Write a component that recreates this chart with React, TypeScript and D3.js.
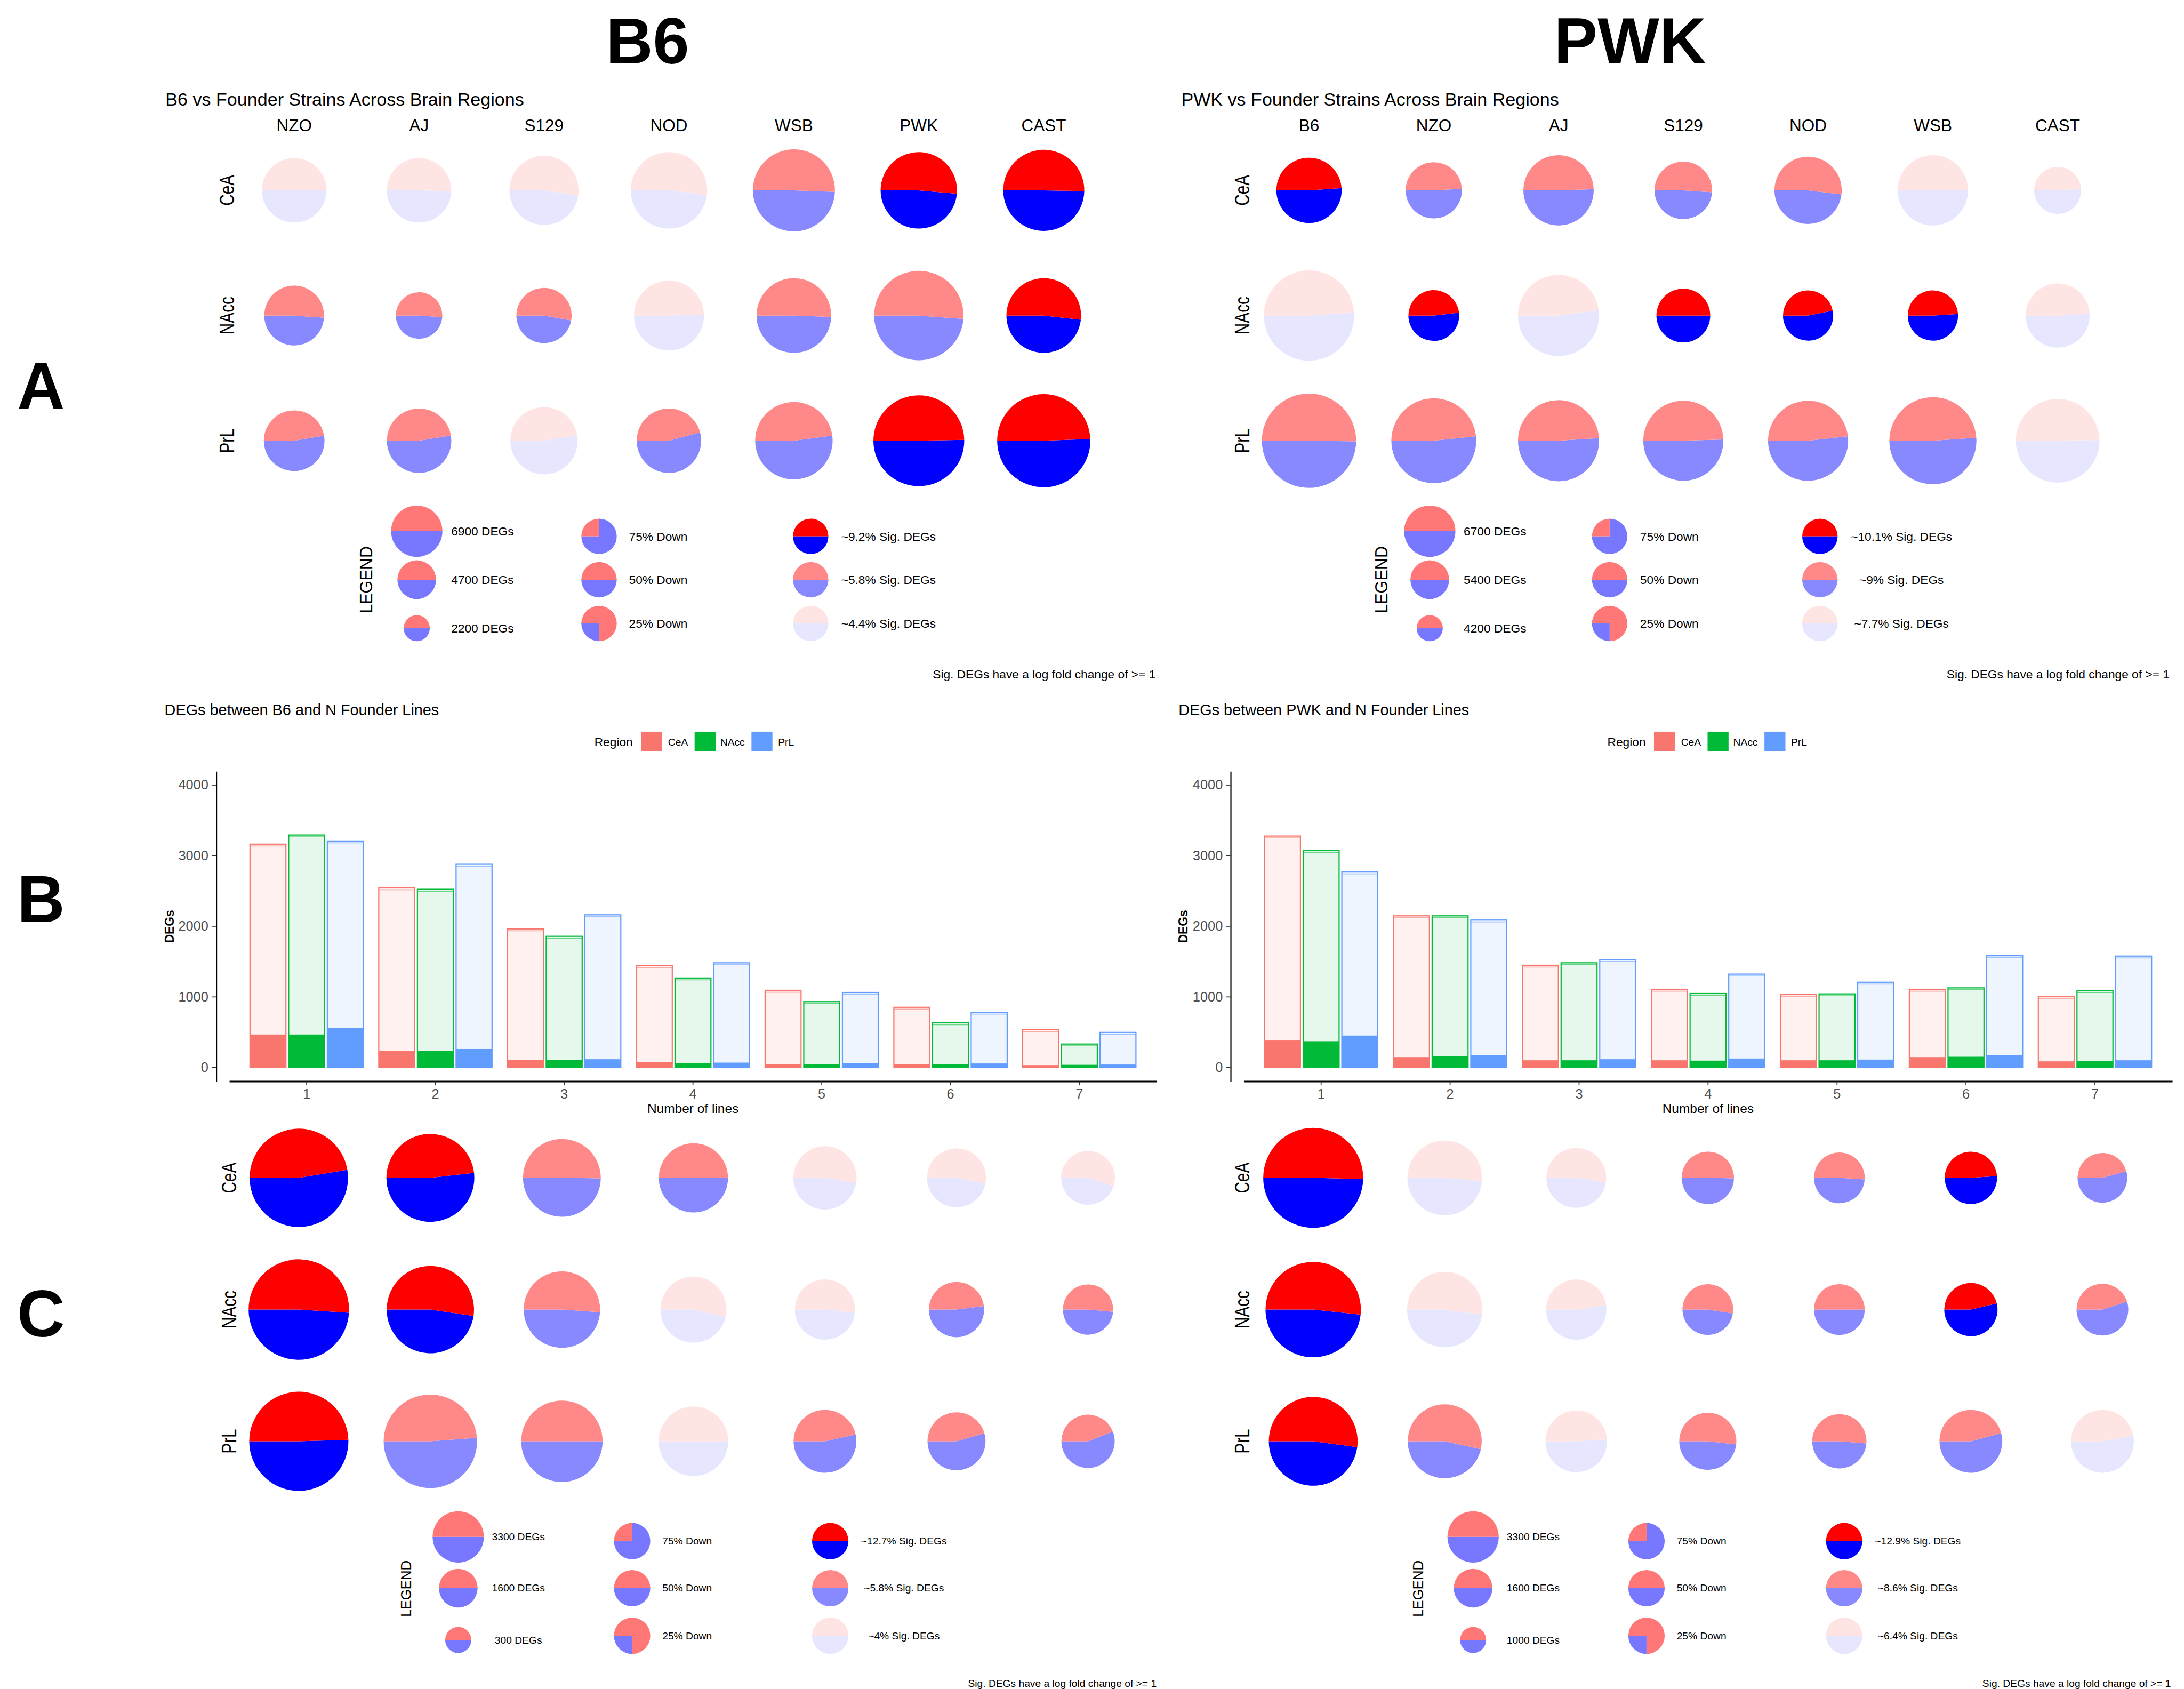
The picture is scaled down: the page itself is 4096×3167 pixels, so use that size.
import React, { useRef, useEffect } from "react";
import * as d3 from "d3";

const FONT = "'Liberation Sans', Arial, Helvetica, sans-serif";

const regions = ["CeA", "NAcc", "PrL"];
const b6Strains = ["NZO", "AJ", "S129", "NOD", "WSB", "PWK", "CAST"];
const pwkStrains = ["B6", "NZO", "AJ", "S129", "NOD", "WSB", "CAST"];
const lineCounts = ["1", "2", "3", "4", "5", "6", "7"];

// Panel A, B6 vs strains. rows: CeA, NAcc, PrL
const b6StrainDegs = [
  [3950, 3950, 4550, 5550, 6400, 5550, 6250],
  [3400, 2050, 2900, 4650, 5300, 7600, 5300],
  [3500, 3950, 4300, 3950, 5700, 7850, 8250],
];
const b6StrainDown = [
  [50, 49.5, 47.6, 48, 49.4, 48.6, 49.7],
  [48.8, 48.9, 47.2, 50.4, 49.4, 48.8, 48.2],
  [52.7, 52.6, 52.5, 54.2, 52.1, 50.3, 50.6],
];
// 0 = low, 1 = mid, 2 = high share of sig. DEGs
const b6StrainSig = [
  [0, 0, 0, 0, 1, 2, 2],
  [1, 1, 1, 0, 1, 1, 2],
  [1, 1, 0, 1, 1, 2, 2],
];

// Panel A, PWK vs strains
const pwkStrainDegs = [
  [4050, 3000, 4700, 3150, 4300, 4700, 2100],
  [7750, 2450, 6250, 2750, 2400, 2400, 3900],
  [8450, 6850, 6250, 6100, 6100, 7200, 6650],
];
const pwkStrainDown = [
  [51.1, 50.9, 50.5, 48.9, 48.1, 50, 50.9],
  [51.2, 51.8, 52.2, 50, 53.1, 51, 51.1],
  [49.8, 51.7, 51, 50.5, 51.8, 51.1, 50.3],
];
const pwkStrainSig = [
  [2, 1, 1, 1, 1, 0, 0],
  [0, 2, 0, 2, 2, 2, 0],
  [1, 1, 1, 1, 1, 1, 0],
];

// Panel B, DEGs vs number of founder lines
const b6LinesTotal = [
  [3160, 2540, 1960, 1440, 1090, 850, 535],
  [3290, 2520, 1855, 1265, 930, 630, 330],
  [3205, 2875, 2160, 1480, 1060, 780, 495],
];
const b6LinesSig = [
  [465, 235, 105, 75, 47, 47, 32],
  [465, 235, 103, 63, 43, 47, 36],
  [555, 260, 115, 67, 59, 55, 40],
];
const pwkLinesTotal = [
  [3275, 2145, 1445, 1105, 1030, 1105, 1000],
  [3070, 2145, 1480, 1045, 1040, 1125, 1085],
  [2765, 2085, 1525, 1320, 1205, 1580, 1575],
];
const pwkLinesSig = [
  [380, 145, 100, 100, 100, 145, 85],
  [370, 155, 100, 95, 100, 150, 88],
  [450, 170, 115, 125, 110, 175, 100],
];
const degTicks = [0, 1000, 2000, 3000, 4000];

// Panel C, pies per number of lines
const b6LinesDegs = [
  [9200, 7350, 5750, 4550, 3800, 3300, 2750],
  [9600, 7250, 5550, 4150, 3450, 2900, 2400],
  [9350, 8300, 6300, 4600, 3750, 3200, 2700],
];
const b6LinesDown = [
  [52.6, 51.8, 49.8, 49.9, 47.4, 46.9, 45],
  [49, 47.7, 48.9, 46.5, 48.3, 52, 48.6],
  [50.5, 51.2, 50, 50, 53.5, 54.5, 56],
];
const b6LinesSigLevel = [
  [2, 2, 1, 1, 0, 0, 0],
  [2, 2, 1, 0, 0, 1, 1],
  [2, 1, 1, 0, 1, 1, 1],
];
const pwkLinesDegs = [
  [9500, 5300, 3400, 2600, 2450, 2600, 2350],
  [8650, 5400, 3450, 2450, 2450, 2700, 2550],
  [7500, 5200, 3600, 3100, 2800, 3750, 3750],
];
const pwkLinesDown = [
  [49.6, 48.6, 47.6, 49.7, 49, 51.1, 54.4],
  [48.3, 47.9, 52.3, 47.6, 50, 53.7, 55],
  [47.9, 46.6, 51, 48.3, 48.8, 54.2, 52.8],
];
const pwkLinesSigLevel = [
  [2, 0, 0, 1, 1, 2, 1],
  [2, 0, 0, 1, 1, 2, 1],
  [2, 1, 0, 1, 1, 1, 0],
];

// legends
const downLegend = [75, 50, 25];
const sigLegendLevels = [2, 1, 0];
const b6StrainSizeLegend = [6900, 4700, 2200];
const pwkStrainSizeLegend = [6700, 5400, 4200];
const b6LinesSizeLegend = [3300, 1600, 300];
const pwkLinesSizeLegend = [3300, 1600, 1000];
const b6StrainSigLegend = ["~9.2%", "~5.8%", "~4.4%"];
const pwkStrainSigLegend = ["~10.1%", "~9%", "~7.7%"];
const b6LinesSigLegend = ["~12.7%", "~5.8%", "~4%"];
const pwkLinesSigLegend = ["~12.9%", "~8.6%", "~6.4%"];

const upColors = ["#FFE4E4", "#FF8888", "#FF0000"];
const downColors = ["#E6E6FF", "#8888FF", "#0000FF"];
const legendUp = "#FF7777";
const legendDown = "#7777FF";
const regionColors = ["#F8766D", "#00BA38", "#619CFF"];
const regionLight = ["#FEF1F0", "#E6F8EC", "#EFF5FF"];

const rScale = d3.scaleSqrt().domain([0, 10000]).range([0, 110]);

const pieGen = d3
  .pie<number>()
  .sort(null)
  .value((d) => d)
  .startAngle(1.5 * Math.PI)
  .endAngle(-0.5 * Math.PI);
const arcGen = d3.arc<d3.PieArcDatum<number>>().innerRadius(0);

const Pie = ({ x, y, r, down, upColor, downColor }: any) => {
  const slices = pieGen([down, 100 - down]);
  arcGen.outerRadius(r);
  return (
    <g transform={`translate(${x},${y})`}>
      {slices.map((s, i) => (
        <path key={i} d={arcGen(s) || ""} fill={i === 0 ? downColor : upColor} />
      ))}
    </g>
  );
};

const RotLabel = ({ x, y, size, stretch, text, bold }: any) => (
  <text
    transform={`translate(${x},${y}) rotate(-90) scale(1,${stretch})`}
    textAnchor="middle"
    dominantBaseline="central"
    fontSize={size}
    fontWeight={bold ? "bold" : "normal"}
  >
    {text}
  </text>
);

const PieGrid = ({ cols, xRange, yRange, degs, down, sig, rowLabelX, headerY, title, titleX, titleY }: any) => {
  const x = d3.scalePoint().domain(cols).range(xRange);
  const y = d3.scalePoint().domain(regions).range(yRange);
  return (
    <g>
      {title && (
        <text x={titleX} y={titleY} fontSize={39}>
          {title}
        </text>
      )}
      {headerY &&
        cols.map((c: string) => (
          <text key={c} x={x(c)} y={headerY} fontSize={36} textAnchor="middle">
            {c}
          </text>
        ))}
      {regions.map((reg, ri) => (
        <g key={reg}>
          <RotLabel x={rowLabelX} y={y(reg)} size={34} stretch={1.3} text={reg} />
          {cols.map((c: string, ci: number) => (
            <Pie
              key={c}
              x={x(c)}
              y={y(reg)}
              r={rScale(degs[ri][ci])}
              down={down[ri][ci]}
              upColor={upColors[sig[ri][ci]]}
              downColor={downColors[sig[ri][ci]]}
            />
          ))}
        </g>
      ))}
    </g>
  );
};

const PieLegend = ({ L, sizes, sigLabels }: any) => {
  const sizeR = d3.scalePoint().domain(sizes.map(String)).range([55, 28]);
  return (
    <g fontSize={L.font}>
      <RotLabel x={L.lx} y={L.ly} size={L.lFont} stretch={1.1} text="LEGEND" />
      {sizes.map((s: number, i: number) => (
        <g key={"s" + i}>
          <Pie x={L.sizeX} y={L.sizeYs[i]} r={sizeR(String(s))} down={50} upColor={legendUp} downColor={legendDown} />
          <text x={L.sizeLabelX} y={L.sizeYs[i]} textAnchor="middle" dominantBaseline="central">
            {s} DEGs
          </text>
        </g>
      ))}
      {downLegend.map((d, i) => (
        <g key={"d" + i}>
          <Pie x={L.downX} y={L.downYs[i]} r={L.smallR} down={d} upColor={legendUp} downColor={legendDown} />
          <text x={L.downLabelX} y={L.downYs[i]} textAnchor="middle" dominantBaseline="central">
            {d}% Down
          </text>
        </g>
      ))}
      {sigLabels.map((t: string, i: number) => (
        <g key={"g" + i}>
          <Pie
            x={L.sigX}
            y={L.downYs[i]}
            r={L.smallR}
            down={50}
            upColor={upColors[sigLegendLevels[i]]}
            downColor={downColors[sigLegendLevels[i]]}
          />
          <text x={L.sigLabelX} y={L.downYs[i]} textAnchor="middle" dominantBaseline="central">
            {t} Sig. DEGs
          </text>
        </g>
      ))}
      <text x={L.footX} y={L.footY} textAnchor="end" dominantBaseline="central">
        Sig. DEGs have a log fold change of {">="} 1
      </text>
    </g>
  );
};

const BarPanel = ({ title, titleX, totals, sigs, axisX, xRange, legendX, yTitleX }: any) => {
  const yRef = useRef<SVGGElement>(null);
  const xRef = useRef<SVGGElement>(null);
  const y = d3.scaleLinear().domain([-198, 4191]).range([2319, 1654]);
  const x = d3.scaleBand().domain(lineCounts).range(xRange).paddingInner(0).paddingOuter(0.1);
  const inner = d3.scaleBand().domain(regions).range([-121.5, 121.5]).paddingInner(0.07);

  useEffect(() => {
    const ya = d3.select(yRef.current!);
    ya.call(
      d3
        .axisLeft(y)
        .tickValues(degTicks)
        .tickFormat(d3.format("d"))
        .tickSize(10)
        .tickSizeOuter(0)
        .tickPadding(7)
    );
    ya.attr("font-family", FONT).attr("font-size", 29);
    ya.select(".domain").attr("stroke", "#000").attr("stroke-width", 2.5);
    ya.selectAll(".tick line").attr("stroke", "#333").attr("stroke-width", 2);
    ya.selectAll(".tick text").attr("fill", "#4D4D4D");

    const xa = d3.select(xRef.current!);
    xa.call(d3.axisBottom(x).tickSize(8).tickSizeOuter(0).tickPadding(8));
    xa.attr("font-family", FONT).attr("font-size", 29);
    xa.select(".domain").attr("stroke", "#000").attr("stroke-width", 3.5);
    xa.selectAll(".tick line").attr("stroke", "#333").attr("stroke-width", 2);
    xa.selectAll(".tick text").attr("fill", "#4D4D4D");
  });

  const keyOffsets = [100, 215, 337];
  const keyLabelOffsets = [158, 270, 394];
  const xMid = (xRange[0] + xRange[1]) / 2;

  return (
    <g>
      <text x={titleX} y={1534} fontSize={33}>
        {title}
      </text>
      <text x={legendX} y={1591} fontSize={26} dominantBaseline="central">
        Region
      </text>
      {regions.map((reg, i) => (
        <g key={reg}>
          <rect x={legendX + keyOffsets[i]} y={1569} width={45} height={42} fill={regionColors[i]} />
          <text x={legendX + keyLabelOffsets[i]} y={1591} fontSize={22} dominantBaseline="central">
            {reg}
          </text>
        </g>
      ))}
      {regions.map((reg, ri) =>
        lineCounts.map((lc, li) => {
          const bx = (x(lc) as number) + x.bandwidth() / 2 + (inner(reg) as number);
          const bw = inner.bandwidth();
          const top = y(totals[ri][li]);
          return (
            <g key={reg + lc}>
              <rect
                x={bx}
                y={top}
                width={bw}
                height={y(0) - top}
                fill={regionLight[ri]}
                stroke={regionColors[ri]}
                strokeWidth={2.5}
              />
              <line x1={bx} x2={bx + bw} y1={top + 4} y2={top + 4} stroke={regionColors[ri]} strokeWidth={2} opacity={0.55} />
              <rect x={bx} y={y(sigs[ri][li])} width={bw} height={y(0) - y(sigs[ri][li])} fill={regionColors[ri]} />
            </g>
          );
        })
      )}
      <g ref={yRef} transform={`translate(${axisX},0)`} />
      <g ref={xRef} transform={`translate(0,2319)`} />
      <RotLabel x={yTitleX} y={1987} size={26} stretch={1.05} text="DEGs" bold />
      <text x={xMid} y={2377} fontSize={28} textAnchor="middle" dominantBaseline="central">
        Number of lines
      </text>
    </g>
  );
};

const legendA = { lFont: 35, font: 26, ly: 1243, sizeYs: [1139, 1243, 1347], downYs: [1150, 1243, 1337], footY: 1445, smallR: 38 };
const legendC = { lFont: 29.5, font: 22, ly: 3407, sizeYs: [3296, 3406, 3517], downYs: [3305, 3406, 3508], footY: 3610, smallR: 39 };

export default function App() {
  return (
    <svg
      width={4096}
      height={3167}
      viewBox="0 0 4685 3622"
      style={{ position: "absolute", left: 0, top: 0, display: "block", background: "#fff" }}
      fontFamily={FONT}
    >
      <rect width={4685} height={3622} fill="#fff" />
      <text x={1389} y={136} fontSize={140} fontWeight="bold" textAnchor="middle">
        B6
      </text>
      <text x={3497} y={136} fontSize={140} fontWeight="bold" textAnchor="middle">
        PWK
      </text>
      <text x={88} y={877} fontSize={142} fontWeight="bold" textAnchor="middle">
        A
      </text>
      <text x={88} y={1978} fontSize={142} fontWeight="bold" textAnchor="middle">
        B
      </text>
      <text x={88} y={2866} fontSize={142} fontWeight="bold" textAnchor="middle">
        C
      </text>

      <PieGrid
        cols={b6Strains}
        xRange={[631, 2239]}
        yRange={[408, 945]}
        degs={b6StrainDegs}
        down={b6StrainDown}
        sig={b6StrainSig}
        rowLabelX={487}
        headerY={281}
        title="B6 vs Founder Strains Across Brain Regions"
        titleX={355}
        titleY={226}
      />
      <PieGrid
        cols={pwkStrains}
        xRange={[2808, 4414]}
        yRange={[408, 945]}
        degs={pwkStrainDegs}
        down={pwkStrainDown}
        sig={pwkStrainSig}
        rowLabelX={2665}
        headerY={281}
        title="PWK vs Founder Strains Across Brain Regions"
        titleX={2534}
        titleY={226}
      />
      <PieLegend
        L={{ ...legendA, lx: 785, sizeX: 894, sizeLabelX: 1035, downX: 1285, downLabelX: 1412, sigX: 1739, sigLabelX: 1906, footX: 2479 }}
        sizes={b6StrainSizeLegend}
        sigLabels={b6StrainSigLegend}
      />
      <PieLegend
        L={{ ...legendA, lx: 2963, sizeX: 3067, sizeLabelX: 3207, downX: 3453, downLabelX: 3581, sigX: 3904, sigLabelX: 4079, footX: 4654 }}
        sizes={pwkStrainSizeLegend}
        sigLabels={pwkStrainSigLegend}
      />

      <BarPanel
        title="DEGs between B6 and N Founder Lines"
        titleX={353}
        totals={b6LinesTotal}
        sigs={b6LinesSig}
        axisX={464}
        xRange={[492, 2481]}
        legendX={1275}
        yTitleX={363}
      />
      <BarPanel
        title="DEGs between PWK and N Founder Lines"
        titleX={2528}
        totals={pwkLinesTotal}
        sigs={pwkLinesSig}
        axisX={2640}
        xRange={[2668, 4660]}
        legendX={3448}
        yTitleX={2538}
      />

      <PieGrid
        cols={lineCounts}
        xRange={[641, 2334]}
        yRange={[2526, 3091]}
        degs={b6LinesDegs}
        down={b6LinesDown}
        sig={b6LinesSigLevel}
        rowLabelX={491}
      />
      <PieGrid
        cols={lineCounts}
        xRange={[2817, 4510]}
        yRange={[2526, 3091]}
        degs={pwkLinesDegs}
        down={pwkLinesDown}
        sig={pwkLinesSigLevel}
        rowLabelX={2665}
      />
      <PieLegend
        L={{ ...legendC, lx: 870, sizeX: 983, sizeLabelX: 1112, downX: 1356, downLabelX: 1474, sigX: 1781, sigLabelX: 1939, footX: 2481 }}
        sizes={b6LinesSizeLegend}
        sigLabels={b6LinesSigLegend}
      />
      <PieLegend
        L={{ ...legendC, lx: 3042, sizeX: 3160, sizeLabelX: 3289, downX: 3532, downLabelX: 3650, sigX: 3956, sigLabelX: 4114, footX: 4657 }}
        sizes={pwkLinesSizeLegend}
        sigLabels={pwkLinesSigLegend}
      />
    </svg>
  );
}
